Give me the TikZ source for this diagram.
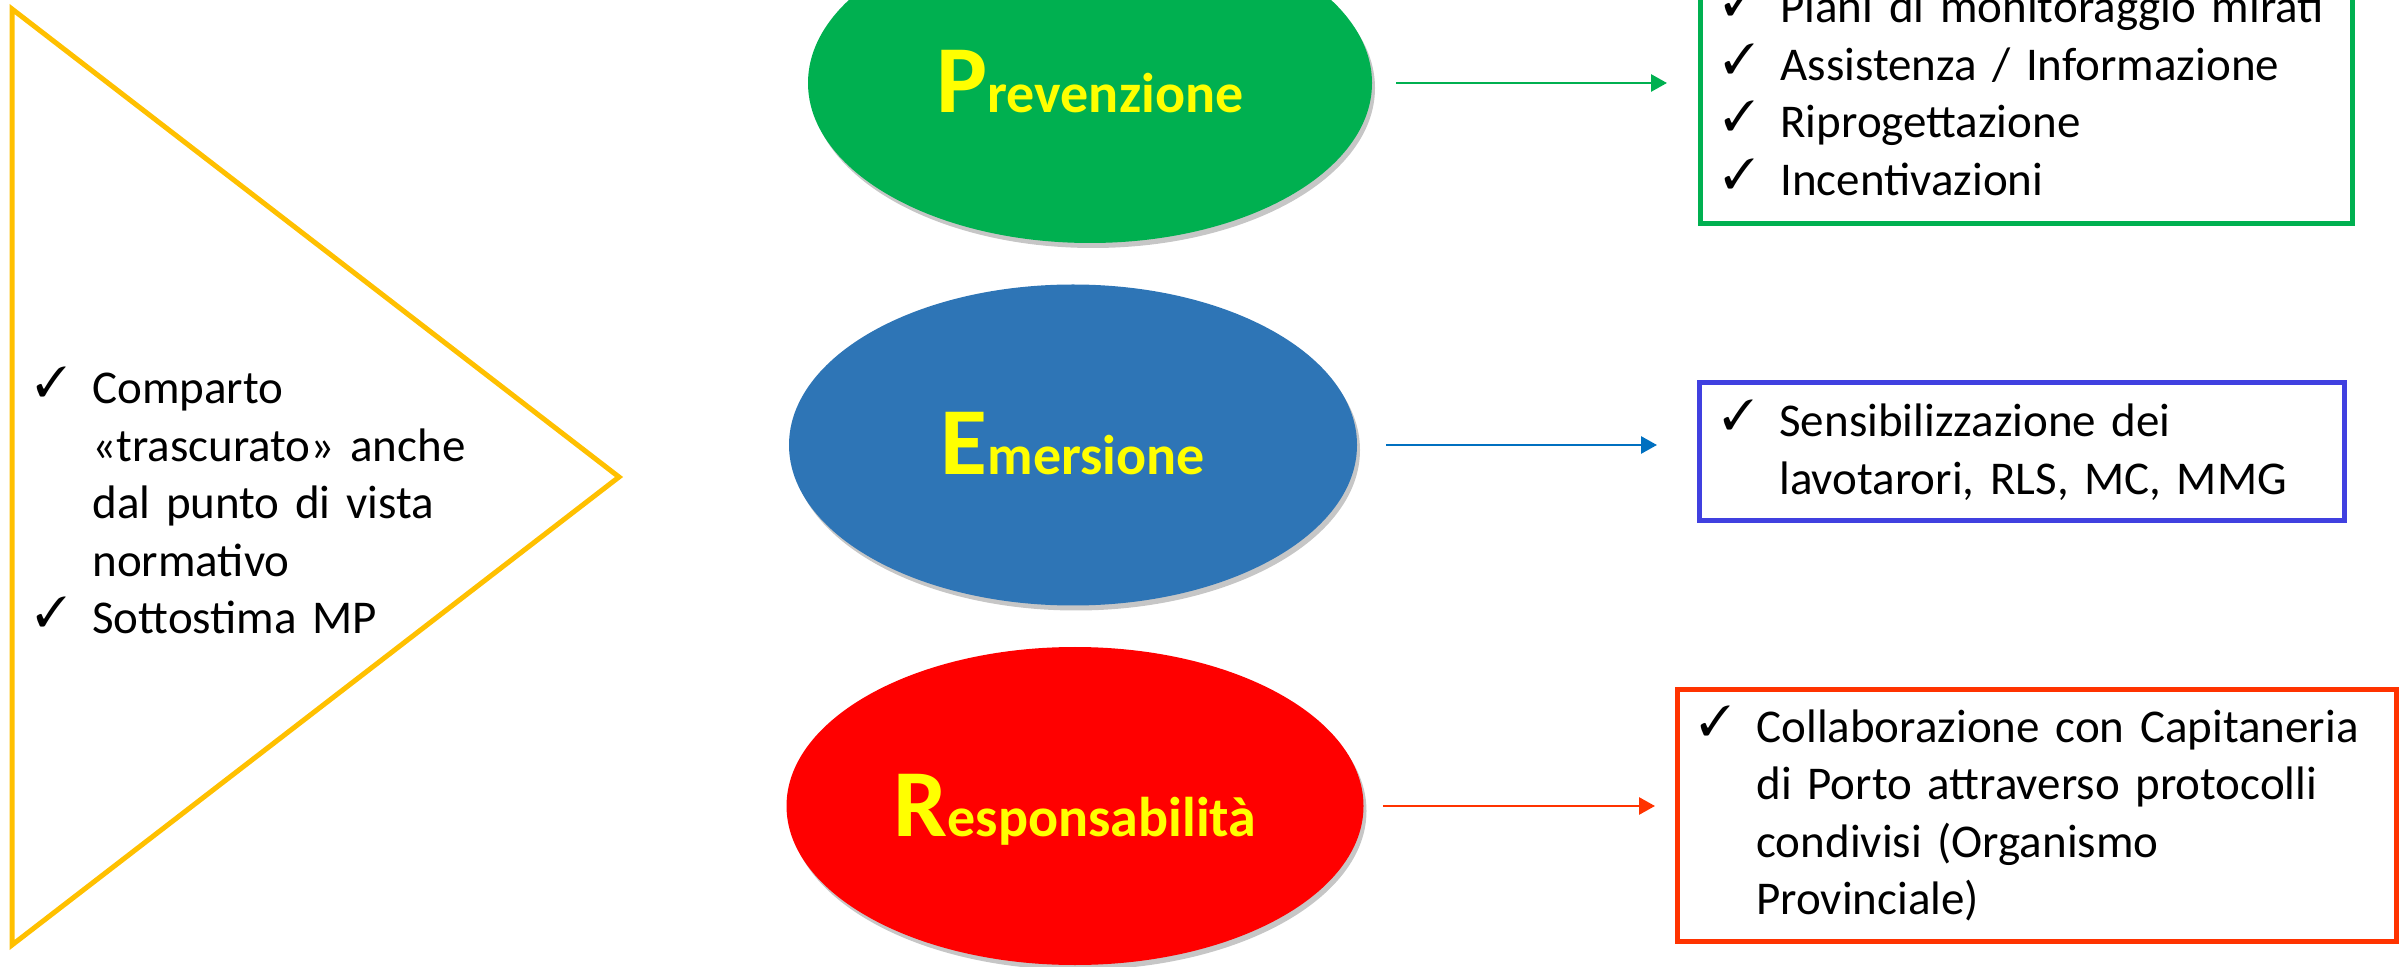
\documentclass[tikz,border=0pt]{standalone}
\usepackage{fontspec}
\setmainfont{Carlito}
\usepackage{pifont}
\usetikzlibrary{arrows.meta, positioning, shapes.geometric, shadows}

\definecolor{pgreen}{HTML}{00B050}
\definecolor{eblue}{HTML}{2E75B6}
\definecolor{rred}{HTML}{FF0000}
\definecolor{ltyellow}{HTML}{FFFF00}
\definecolor{trigold}{HTML}{FFC000}
\definecolor{boxblue}{HTML}{4040E0}
\definecolor{arrblue}{HTML}{0070C0}
\definecolor{boxred}{HTML}{FF3300}

\newcommand{\chk}{\makebox[28.5pt][l]{\raisebox{3.5pt}{\fontsize{21}{21}\selectfont\ding{51}}}}
\newcommand{\ind}{\hspace*{28.5pt}}
\newcommand{\bigword}[2]{{\fontsize{48}{48}\selectfont #1}{\fontsize{28}{28}\selectfont #2}}

\begin{document}
\begin{tikzpicture}[x=0.5pt, y=-0.5pt,
    topic/.style={ellipse, inner sep=0pt, text=ltyellow, font=\bfseries, text height=30pt, text depth=0pt,
        drop shadow={shadow xshift=1.5pt, shadow yshift=-2.5pt, opacity=0.45}},
    listbox/.style={draw, line width=2.5pt, anchor=north west, inner sep=0pt},
    chklist/.style={anchor=base west, inner sep=0pt, text width=360pt, align=left,
        font=\fontsize{23.5}{28.75}\selectfont},
    arr/.style={line width=1.4pt, -{Triangle[length=8pt, width=8.5pt]}}]

    \useasboundingbox (0,0) rectangle (2399,967);
    \clip (0,0) rectangle (2399,967);

    % Triangle
    \draw[trigold, line width=2.5pt] (12,9) -- (619,477) -- (12,945) -- cycle;
    \node[chklist] (why) at (35,404) {\chk Comparto\\ \ind «trascurato» anche\\ \ind dal punto di vista\\ \ind normativo\\ \chk Sottostima MP};

    % Topics
    \node[topic, fill=pgreen, minimum width=282pt, minimum height=160pt] (prev) at (1090,83) {\bigword{P}{revenzione}};
    \node[topic, fill=eblue, minimum width=284pt, minimum height=160.5pt] (emer) at (1073,445) {\bigword{E}{mersione}};
    \node[topic, fill=rred, minimum width=288.5pt, minimum height=159pt] (resp) at (1075,806) {\bigword{R}{esponsabilità}};

    % Boxes
    \node[listbox, draw=pgreen, minimum width=326pt, minimum height=126.5pt] (pbox) at (1698,-32) {};
    \node[listbox, draw=boxblue, minimum width=322.5pt, minimum height=69pt] (ebox) at (1697,380) {};
    \node[listbox, draw=boxred, minimum width=359.5pt, minimum height=126pt] (rbox) at (1675,687) {};

    \node[chklist] (plist) at (1723,23) {\chk Piani di monitoraggio mirati\\ \chk Assistenza / Informazione\\ \chk Riprogettazione\\ \chk Incentivazioni};
    \node[chklist] (elist) at (1722,437) {\chk Sensibilizzazione dei\\ \ind lavotarori, RLS, MC, MMG};
    \node[chklist] (rlist) at (1699,742) {\chk Collaborazione con Capitaneria\\ \ind di Porto attraverso protocolli\\ \ind condivisi (Organismo\\ \ind Provinciale)};

    % Arrows
    \draw[arr, pgreen, shorten <=12pt, shorten >=15.5pt] (prev.east) -- (prev.east -| pbox.west);
    \draw[arr, arrblue, shorten <=14.5pt, shorten >=20pt] (emer.east) -- (emer.east -| ebox.west);
    \draw[arr, boxred, shorten <=9.5pt, shorten >=10pt] (resp.east) -- (resp.east -| rbox.west);
\end{tikzpicture}
\end{document}
